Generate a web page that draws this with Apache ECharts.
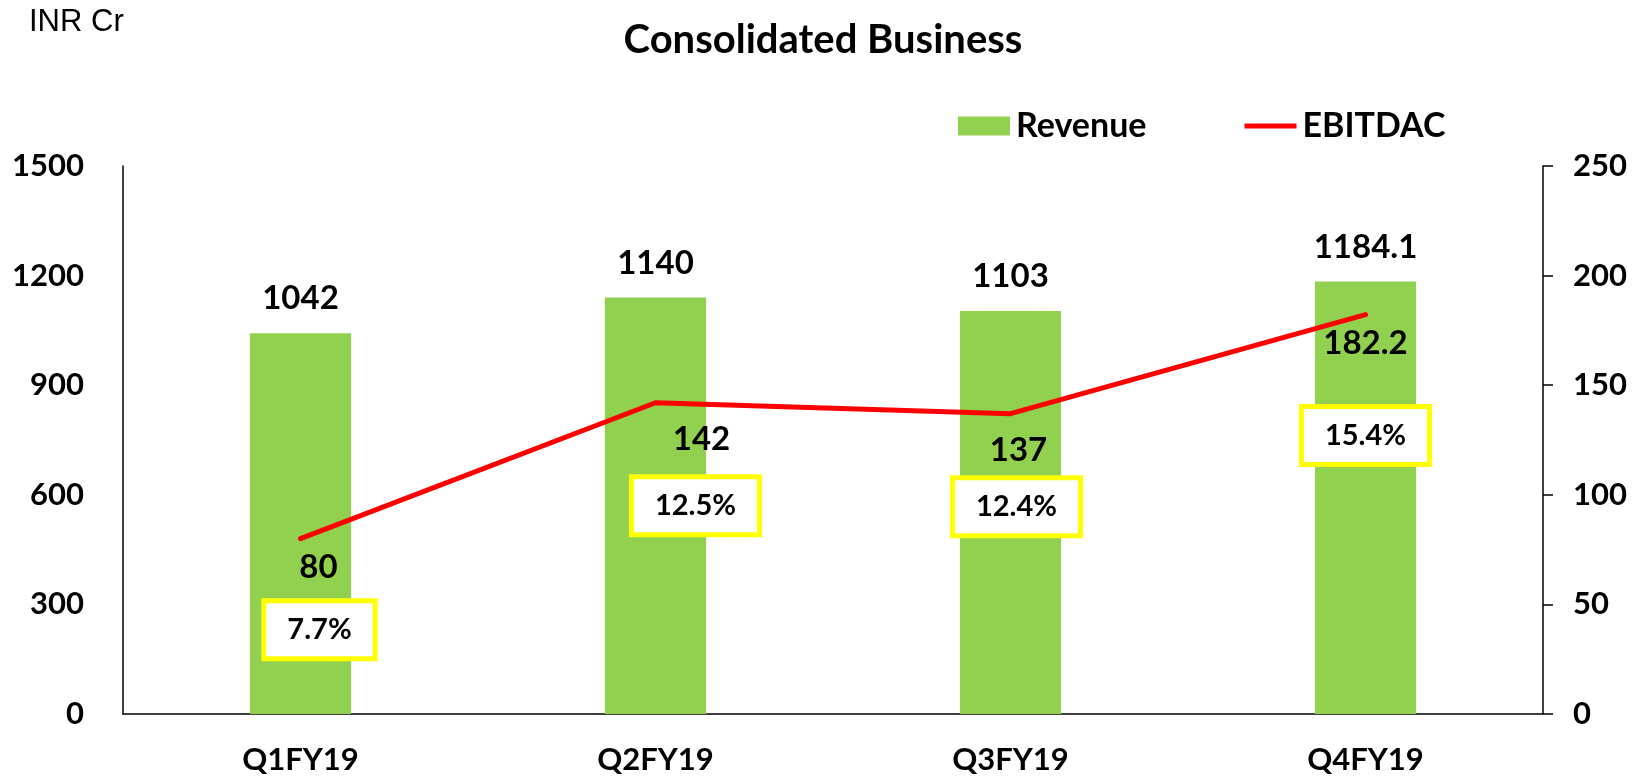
<!DOCTYPE html>
<html>
<head>
<meta charset="utf-8">
<script src="https://cdn.jsdelivr.net/npm/echarts@6/dist/echarts.min.js"></script>
<style>
html,body{margin:0;padding:0;background:#fff;}
#chart{width:1646px;height:777px;}
</style>
</head>
<body>
<div id="chart"></div>
<script>
const categories = ['Q1FY19', 'Q2FY19', 'Q3FY19', 'Q4FY19'];
const revenue = [1042, 1140, 1103, 1184.1];
const ebitdac = [80, 142, 137, 182.2];
const margins = ['7.7%', '12.5%', '12.4%', '15.4%'];
const leftTicks = [0, 300, 600, 900, 1200, 1500];
const rightTicks = [0, 50, 100, 150, 200, 250];

// label layout offsets (style only)
const numOffsets = [[18, 8], [46, 16], [8, 16], [0, 8]];
const boxOffsets = [[19, 74], [40, 86], [6, 76], [0, 104]];

const FONT = 'Lato';
const chart = echarts.init(document.getElementById('chart'));
chart.setOption({
  animation: false,
  backgroundColor: '#fff',
  title: [{
    text: 'Consolidated Business',
    left: 'center',
    top: 15,
    textStyle: {fontFamily: FONT, fontWeight: 'bold', fontSize: 40, color: '#000'}
  }, {
    text: 'INR Cr',
    left: 24,
    top: 2,
    textStyle: {fontFamily: 'Liberation Sans', fontWeight: 'normal', fontSize: 31, color: '#000'}
  }],
  legend: {
    data: [
      {name: 'Revenue', icon: 'rect'},
      {name: 'EBITDAC', icon: 'path://M0,0 M0,7 L52,7 L52,12 L0,12 Z M52,19', itemStyle: {color: '#FF0000'}}
    ],
    left: 953,
    top: 104,
    itemWidth: 52,
    itemHeight: 19,
    itemGap: 98,
    textStyle: {fontFamily: FONT, fontWeight: 'bold', fontSize: 34, color: '#000', padding: [0, 0, 0, 1]}
  },
  grid: {left: 123, right: 103, top: 166, bottom: 63, containLabel: false},
  xAxis: {
    type: 'category',
    data: categories,
    axisLine: {lineStyle: {color: '#000', width: 1.5}},
    axisTick: {show: false},
    axisLabel: {fontFamily: FONT, fontWeight: 'bold', fontSize: 31, color: '#000', margin: 30}
  },
  yAxis: [{
    type: 'value',
    min: leftTicks[0],
    max: leftTicks[leftTicks.length - 1],
    interval: leftTicks[1] - leftTicks[0],
    axisLine: {show: true, lineStyle: {color: '#000', width: 1.5}},
    axisTick: {show: false},
    splitLine: {show: false},
    axisLabel: {fontFamily: FONT, fontWeight: 'bold', fontSize: 31, color: '#000', margin: 39, formatter: v => String(v)}
  }, {
    type: 'value',
    position: 'right',
    min: rightTicks[0],
    max: rightTicks[rightTicks.length - 1],
    interval: rightTicks[1] - rightTicks[0],
    axisLine: {show: true, lineStyle: {color: '#000', width: 1.5}},
    axisTick: {show: true, inside: false, length: 10, lineStyle: {color: '#000', width: 1.5}},
    splitLine: {show: false},
    axisLabel: {fontFamily: FONT, fontWeight: 'bold', fontSize: 31, color: '#000', margin: 30, formatter: v => String(v)}
  }],
  series: [{
    name: 'Revenue',
    type: 'bar',
    data: revenue,
    barWidth: '28.5%',
    itemStyle: {color: '#92D050'},
    label: {
      show: true,
      position: 'top',
      distance: 18,
      fontFamily: FONT, fontWeight: 'bold', fontSize: 33, color: '#000',
      formatter: p => String(p.value)
    }
  }, {
    name: 'EBITDAC',
    type: 'line',
    yAxisIndex: 1,
    data: ebitdac.map((v, i) => ({
      value: v,
      label: {offset: numOffsets[i]}
    })),
    symbol: 'circle',
    symbolSize: 0,
    showSymbol: true,
    lineStyle: {color: '#FF0000', width: 5, cap: 'round'},
    itemStyle: {color: '#FF0000'},
    z: 5,
    label: {
      show: true,
      position: 'bottom',
      distance: 4,
      fontFamily: FONT, fontWeight: 'bold', fontSize: 33, color: '#000',
      formatter: p => String(p.value)
    }
  }, {
    name: 'Margin',
    type: 'line',
    yAxisIndex: 1,
    data: ebitdac.map((v, i) => ({
      value: v,
      label: {offset: boxOffsets[i]}
    })),
    symbol: 'circle',
    symbolSize: 0,
    showSymbol: true,
    lineStyle: {color: 'rgba(0,0,0,0)', width: 0},
    itemStyle: {color: 'rgba(0,0,0,0)'},
    z: 6,
    label: {
      show: true,
      position: 'bottom',
      distance: 0,
      formatter: p => '{b|' + margins[p.dataIndex] + '}',
      rich: {
        b: {
          fontFamily: FONT, fontWeight: 'bold', fontSize: 29, color: '#000',
          backgroundColor: '#fff',
          borderColor: '#FFFF00',
          borderWidth: 5,
          padding: [12, 21, 12, 21],
          lineHeight: 34,
          align: 'center',
          verticalAlign: 'middle'
        }
      }
    }
  }]
});
</script>
</body>
</html>
